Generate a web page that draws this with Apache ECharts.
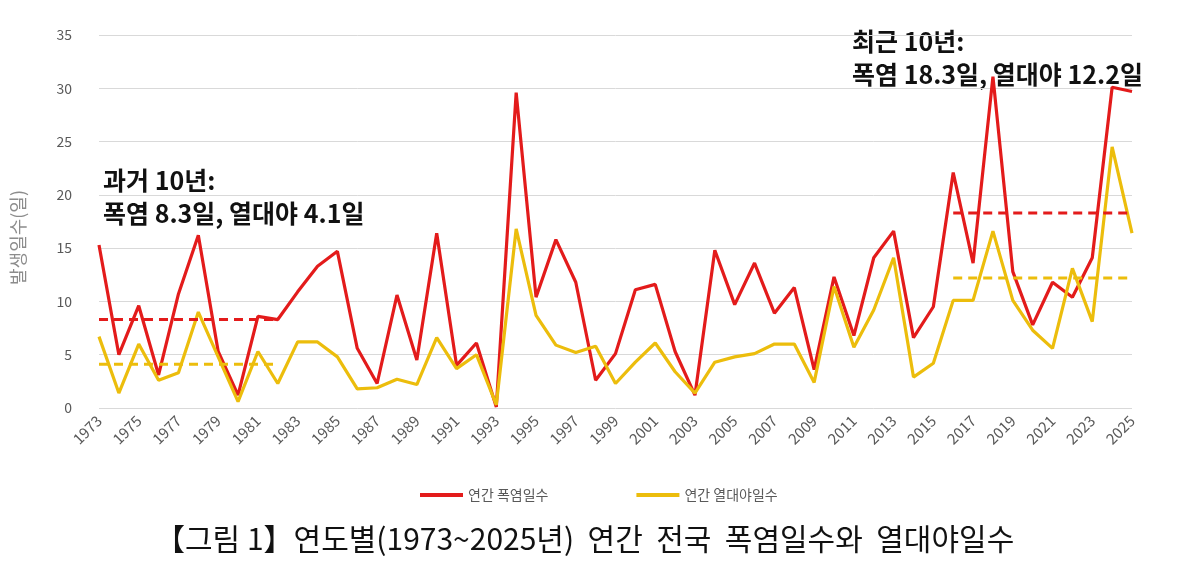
<!DOCTYPE html>
<html>
<head>
<meta charset="utf-8">
<script src="https://cdn.jsdelivr.net/npm/echarts@6/dist/echarts.min.js"></script>
<style>
  html, body { margin: 0; padding: 0; background: #fff; }
  #chart { width: 1200px; height: 576px; }
</style>
</head>
<body>
<div id="chart"></div>
<script>
const years = [
  "1973", "1974", "1975", "1976", "1977", "1978", "1979", "1980", "1981", "1982",
  "1983", "1984", "1985", "1986", "1987", "1988", "1989", "1990", "1991", "1992",
  "1993", "1994", "1995", "1996", "1997", "1998", "1999", "2000", "2001", "2002",
  "2003", "2004", "2005", "2006", "2007", "2008", "2009", "2010", "2011", "2012",
  "2013", "2014", "2015", "2016", "2017", "2018", "2019", "2020", "2021", "2022",
  "2023", "2024", "2025"
];

// 연간 폭염일수
const heatDays = [
  15.3, 5.0, 9.6, 3.1, 10.7, 16.2, 5.3, 1.2, 8.6, 8.3,
  10.9, 13.3, 14.7, 5.6, 2.3, 10.6, 4.5, 16.4, 4.0, 6.1,
  0.1, 29.6, 10.4, 15.8, 11.8, 2.6, 5.1, 11.1, 11.6, 5.3,
  1.2, 14.8, 9.7, 13.6, 8.9, 11.3, 3.6, 12.3, 6.8, 14.1,
  16.6, 6.6, 9.5, 22.1, 13.6, 31.1, 12.8, 7.8, 11.8, 10.4,
  14.1, 30.1, 29.7
];

// 연간 열대야일수
const tropicalNights = [
  6.7, 1.4, 6.0, 2.6, 3.3, 9.0, 4.8, 0.6, 5.3, 2.3,
  6.2, 6.2, 4.8, 1.8, 1.9, 2.7, 2.2, 6.6, 3.7, 5.0,
  0.3, 16.8, 8.7, 5.9, 5.2, 5.8, 2.3, 4.3, 6.1, 3.4,
  1.4, 4.3, 4.8, 5.1, 6.0, 6.0, 2.4, 11.4, 5.7, 9.2,
  14.1, 2.9, 4.2, 10.1, 10.1, 16.6, 10.1, 7.3, 5.6, 13.1,
  8.1, 24.5, 16.4
];

// 10년 평균 (과거: 1973~1982, 최근: 2016~2025)
const pastRange = ["1973", "1982"];
const recentRange = ["2016", "2025"];
const pastAvg = [8.3, 4.1];     // 폭염, 열대야
const recentAvg = [18.3, 12.2]; // 폭염, 열대야

const yTicks = [0, 5, 10, 15, 20, 25, 30, 35];

function avgLine(range, value) {
  const from = years.indexOf(range[0]);
  const to = years.indexOf(range[1]);
  return years.map((y, i) => (i >= from && i <= to ? value : null));
}

const RED = "#e31b1b";
const YELLOW = "#ecbd0c";
const FONT = "'Noto Sans CJK KR', 'Noto Sans', sans-serif";

const chart = echarts.init(document.getElementById("chart"));
chart.setOption({
  animation: false,
  textStyle: { fontFamily: FONT },
  grid: { left: 99, right: 68, top: 35, bottom: 168 },
  title: {
    text: "【그림 1】연도별(1973~2025년)  연간  전국  폭염일수와  열대야일수",
    left: 150,
    top: 519,
    textStyle: { fontFamily: FONT, fontSize: 30, fontWeight: "normal", color: "#111" }
  },
  legend: {
    data: ["연간 폭염일수", "연간 열대야일수"],
    left: 415,
    top: 483,
    icon: "rect",
    itemWidth: 43,
    itemHeight: 4,
    itemGap: 88,
    textStyle: { fontFamily: FONT, fontSize: 14, color: "#595959" }
  },
  xAxis: {
    type: "category",
    data: years,
    boundaryGap: false,
    axisLine: { show: false },
    axisTick: { show: false },
    axisLabel: {
      interval: 1,
      rotate: 45,
      margin: 10,
      fontSize: 15,
      color: "#595959",
      fontFamily: FONT
    },
    splitLine: { show: false }
  },
  yAxis: {
    type: "value",
    min: yTicks[0],
    max: yTicks[yTicks.length - 1],
    interval: 5,
    name: "발생일수(일)",
    nameLocation: "middle",
    nameGap: 72,
    nameTextStyle: { fontFamily: FONT, fontSize: 18, color: "#8c8c8c", padding: [0, 32, 0, 0] },
    axisLine: { show: false },
    axisTick: { show: false },
    axisLabel: { margin: 27, fontSize: 14, color: "#595959", fontFamily: FONT },
    splitLine: { lineStyle: { color: "#d9d9d9", width: 1 } }
  },
  series: [
    {
      name: "연간 폭염일수",
      type: "line",
      data: heatDays,
      symbol: "none",
      itemStyle: { color: RED },
      lineStyle: { color: RED, width: 3.2 }
    },
    {
      name: "연간 열대야일수",
      type: "line",
      data: tropicalNights,
      symbol: "none",
      itemStyle: { color: YELLOW },
      lineStyle: { color: YELLOW, width: 3.2 }
    },
    {
      name: "과거 폭염 평균",
      type: "line",
      data: avgLine(pastRange, pastAvg[0]),
      symbol: "none",
      lineStyle: { color: RED, width: 3, type: [9, 6] }
    },
    {
      name: "과거 열대야 평균",
      type: "line",
      data: avgLine(pastRange, pastAvg[1]),
      symbol: "none",
      lineStyle: { color: YELLOW, width: 3, type: [9, 6] }
    },
    {
      name: "최근 폭염 평균",
      type: "line",
      data: avgLine(recentRange, recentAvg[0]),
      symbol: "none",
      lineStyle: { color: RED, width: 3, type: [9, 6] }
    },
    {
      name: "최근 열대야 평균",
      type: "line",
      data: avgLine(recentRange, recentAvg[1]),
      symbol: "none",
      lineStyle: { color: YELLOW, width: 3, type: [9, 6] }
    }
  ],
  graphic: [
    {
      type: "text",
      left: 103,
      top: 164,
      style: {
        text: "과거 10년:\n폭염 " + pastAvg[0] + "일, 열대야 " + pastAvg[1] + "일",
        font: "bold 25px " + FONT,
        lineHeight: 33,
        fill: "#111"
      }
    },
    {
      type: "text",
      left: 852,
      top: 25,
      style: {
        text: "최근 10년:\n폭염 " + recentAvg[0] + "일, 열대야 " + recentAvg[1] + "일",
        font: "bold 25px " + FONT,
        lineHeight: 33,
        fill: "#111"
      }
    }
  ]
});
</script>
</body>
</html>
